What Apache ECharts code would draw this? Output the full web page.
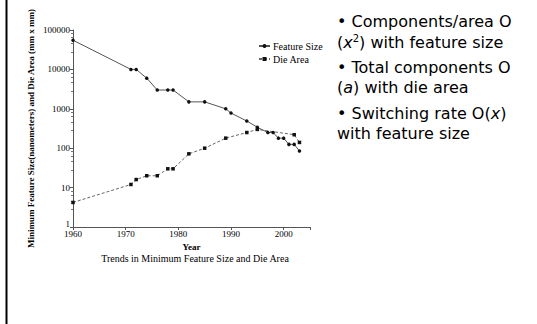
<!DOCTYPE html>
<html>
<head>
<meta charset="utf-8">
<style>html,body{margin:0;padding:0;background:#fff}#c{width:537px;height:324px}</style>
<script src="https://cdn.jsdelivr.net/npm/echarts@6/dist/echarts.min.js"></script>
</head>
<body>
<div id="c"></div>
<script>
var featureYears = [1960,1971,1972,1974,1976,1978,1979,1982,1985,1989,1990,1993,1995,1997,1998,1999,2000,2001,2002,2003];
var featureSize = [55000,10000,10000,6000,3000,3000,3000,1500,1500,1000,780,490,340,250,250,180,180,125,125,85];
var dieYears = [1960,1971,1972,1974,1976,1978,1979,1982,1985,1989,1993,1995,2002,2003];
var dieArea = [4.2,12,16,20,20,30,30,72,100,180,250,300,220,140];
var yTicks = [1,10,100,1000,10000,100000];
var xTicks = [1960,1970,1980,1990,2000];

var serif = 'Liberation Serif';
var sans = 'DejaVu Sans';
var fs = 16;
var chart = echarts.init(document.getElementById('c'), null, {renderer:'svg'});
function pairs(xs, ys){ return xs.map(function(x,i){return [x, ys[i]];}); }
function bodyText(top, text, rich){
  return {type:'text', left:337, top:top, style:{text:text, font:fs+'px "'+sans+'"', fill:'#000', rich:rich||{}}};
}
var italic = {i:{fontStyle:'italic', fontSize:fs, fontFamily:sans}};

chart.setOption({
  animation:false,
  backgroundColor:'#fff',
  title:{
    text:'Trends in Minimum Feature Size and Die Area',
    left:190, top:248, textAlign:'center',
    textStyle:{fontFamily:serif, fontSize:10, fontWeight:'normal', color:'#000'}
  },
  legend:{
    orient:'vertical', left:253, top:36, itemGap:3, itemWidth:11, itemHeight:5,
    textStyle:{fontFamily:serif, fontSize:10, color:'#000', padding:[0,0,0,-2]},
    data:['Feature Size','Die Area']
  },
  grid:{left:73, top:30, width:237, height:197},
  xAxis:{
    type:'value', min:1960, max:2005, interval:10,
    name:'Year', nameLocation:'middle', nameGap:13,
    nameTextStyle:{fontFamily:serif, fontSize:9, fontWeight:'bold', color:'#000'},
    axisLine:{lineStyle:{color:'#555', width:1}},
    axisTick:{length:3, lineStyle:{color:'#555'}},
    splitLine:{show:false},
    axisLabel:{fontFamily:serif, fontSize:9, color:'#000', margin:2,
      formatter:function(v){return xTicks.indexOf(v)>=0 ? String(v) : '';}}
  },
  yAxis:{
    type:'log', logBase:10, min:1, max:100000,
    name:'Minimum Feature Size(nanometers) and Die Area (mm x mm)',
    nameLocation:'middle', nameGap:38, nameRotate:90,
    nameTextStyle:{fontFamily:serif, fontSize:9, fontWeight:'bold', color:'#000'},
    axisLine:{show:true, lineStyle:{color:'#555', width:1}},
    axisTick:{show:true, length:3, lineStyle:{color:'#555'}},
    minorTick:{show:true, splitNumber:5, length:2, lineStyle:{color:'#777'}},
    splitLine:{show:false},
    axisLabel:{fontFamily:serif, fontSize:9, color:'#000', margin:3,
      formatter:function(v){
        if (v === 1) return '{lo|1}';
        return yTicks.indexOf(v)>=0 ? String(v) : '';
      },
      rich:{lo:{fontFamily:serif, fontSize:9, color:'#000', padding:[0,0,6,0]}}}
  },
  series:[
    {name:'Feature Size', type:'line', data:pairs(featureYears, featureSize),
     symbol:'circle', symbolSize:3.5, itemStyle:{color:'#111'},
     lineStyle:{color:'#555', width:1}},
    {name:'Die Area', type:'line', data:pairs(dieYears, dieArea),
     symbol:'rect', symbolSize:3.5, itemStyle:{color:'#111'},
     lineStyle:{color:'#666', width:1, type:[3,2]}}
  ],
  graphic:[
    {type:'rect', shape:{x:5.5, y:0, width:2, height:324}, style:{fill:'#000'}},
    bodyText(13, '\u2022 Components/area O'),
    bodyText(33, '({i|x}{s|2}) with feature size',
      {i:italic.i, s:{fontSize:10, fontFamily:sans, verticalAlign:'top', lineHeight:19}}),
    bodyText(59, '\u2022 Total components O'),
    bodyText(79, '({i|a}) with die area', italic),
    bodyText(105, '\u2022 Switching rate O({i|x})', italic),
    bodyText(125, 'with feature size')
  ]
});
</script>
</body>
</html>
